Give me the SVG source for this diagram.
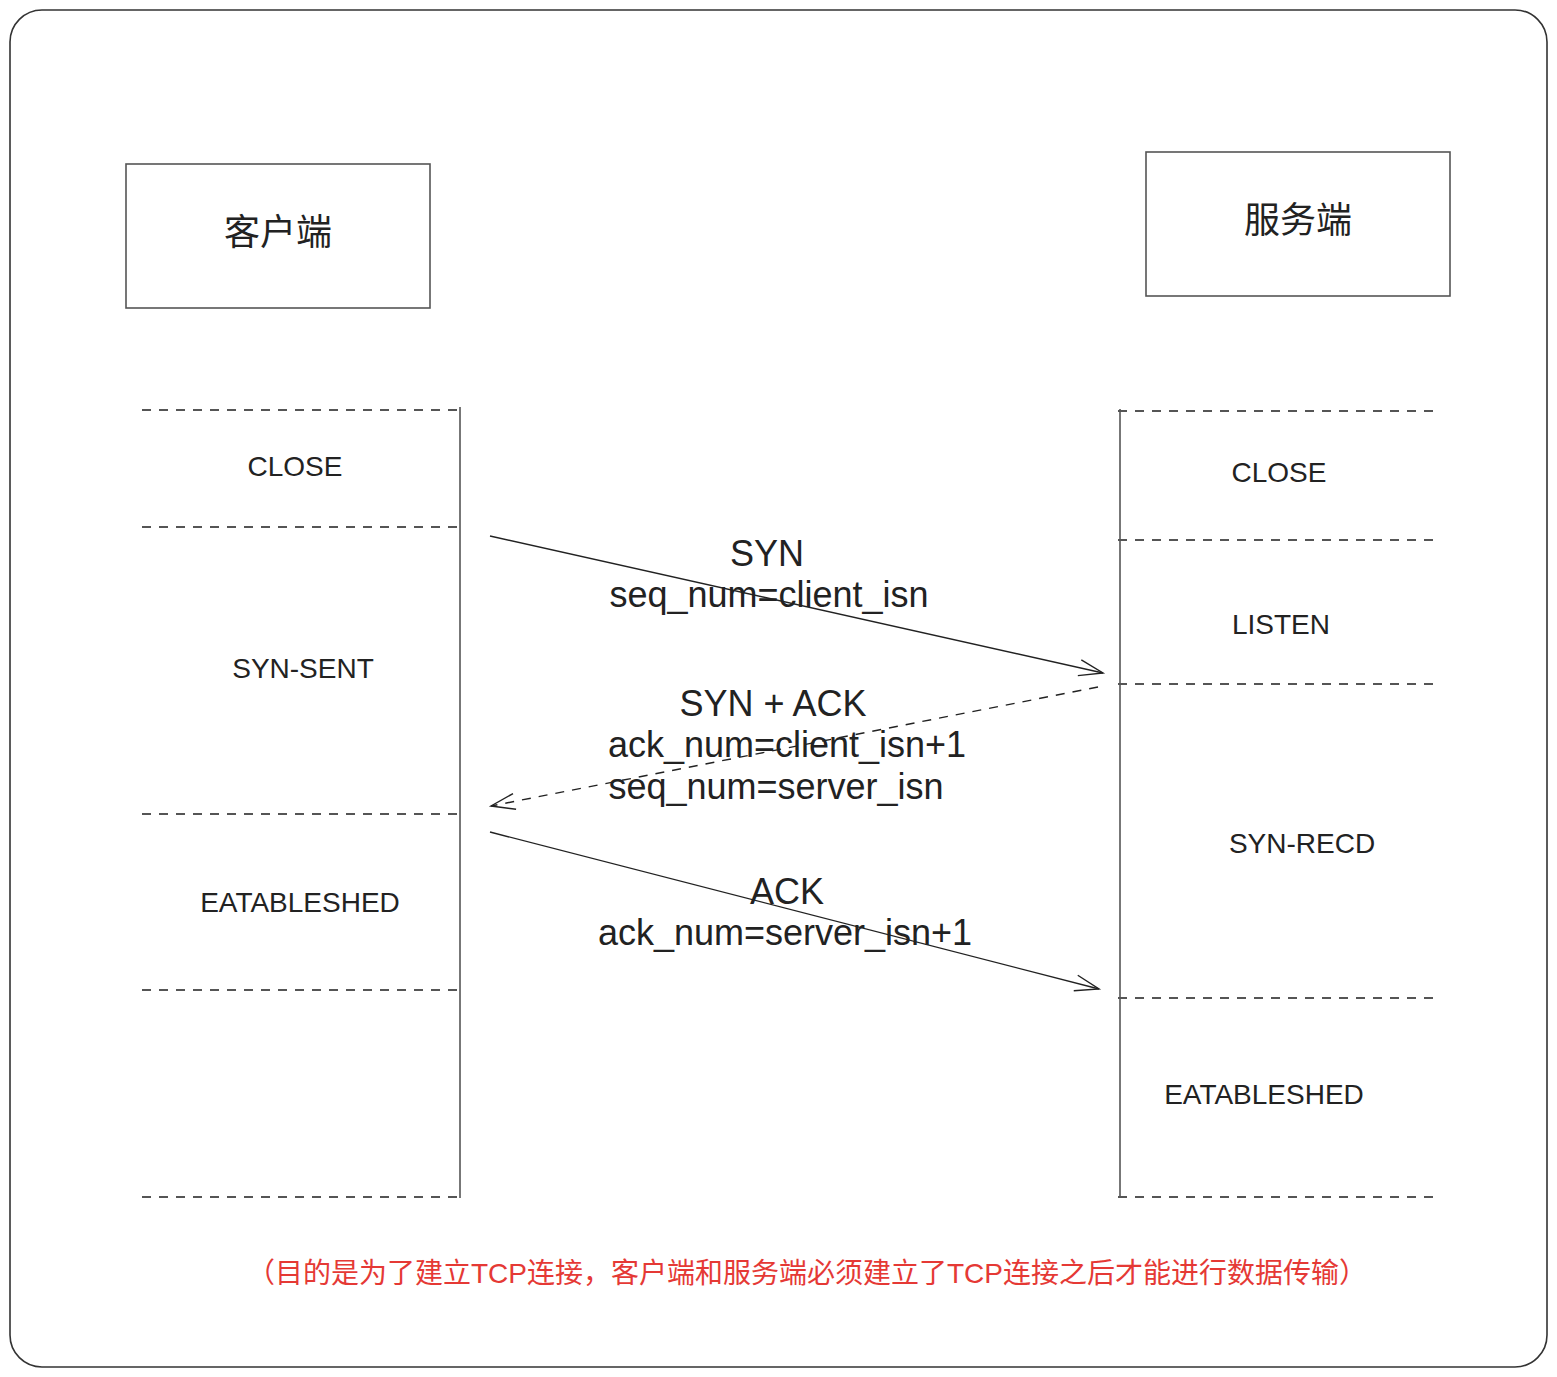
<svg xmlns="http://www.w3.org/2000/svg" width="1557" height="1377" viewBox="0 0 1557 1377">
  <style>
    .frame { fill: #ffffff; stroke: #333333; stroke-width: 1.6; }
    .box { fill: #ffffff; stroke: #555555; stroke-width: 1.6; }
    .life { stroke: #555555; stroke-width: 1.6; fill: none; }
    .sep { stroke: #555555; stroke-width: 1.8; stroke-dasharray: 9 8; fill: none; }
    .msg { stroke: #222222; stroke-width: 1.4; fill: none; }
    .msg-dash { stroke: #222222; stroke-width: 1.4; fill: none; stroke-dasharray: 9 8; }
    .actor { font-family: "Liberation Sans", "Noto Sans CJK SC", sans-serif; font-size: 36px; fill: #222222; text-anchor: middle; }
    .state { font-family: "Liberation Sans", Arial, sans-serif; font-size: 28px; fill: #222222; text-anchor: middle; }
    .label { font-family: "Liberation Sans", Arial, sans-serif; font-size: 36px; fill: #222222; text-anchor: middle; }
    .note { font-family: "Liberation Sans", "Noto Sans CJK SC", sans-serif; font-size: 28px; fill: #e53935; text-anchor: middle; }
  </style>
  <defs>
    <marker id="open-arrow" markerUnits="userSpaceOnUse" markerWidth="30" markerHeight="24" refX="26" refY="12" orient="auto">
      <path d="M2,4 L26,12 L2,20" fill="none" stroke="#222222" stroke-width="1.4"/>
    </marker>
  </defs>

  <!-- outer frame -->
  <rect class="frame" x="10" y="10" width="1537" height="1357" rx="32" ry="32"/>

  <!-- client node -->
  <g id="client">
    <rect class="box" x="126" y="164" width="304" height="144"/>
    <text class="actor" x="278" y="245">客户端</text>
  </g>

  <!-- server node -->
  <g id="server">
    <rect class="box" x="1146" y="152" width="304" height="144"/>
    <text class="actor" x="1298" y="233">服务端</text>
  </g>

  <!-- client lifeline with state bands -->
  <g id="client-states">
    <line class="life" x1="460" y1="407" x2="460" y2="1198"/>
    <line class="sep" x1="142" y1="410" x2="458" y2="410"/>
    <line class="sep" x1="142" y1="527" x2="458" y2="527"/>
    <line class="sep" x1="142" y1="814" x2="458" y2="814"/>
    <line class="sep" x1="142" y1="990" x2="458" y2="990"/>
    <line class="sep" x1="142" y1="1197" x2="458" y2="1197"/>
    <text class="state" x="295" y="476">CLOSE</text>
    <text class="state" x="303" y="678">SYN-SENT</text>
    <text class="state" x="300" y="912">EATABLESHED</text>
  </g>

  <!-- server lifeline with state bands -->
  <g id="server-states">
    <line class="life" x1="1120" y1="409" x2="1120" y2="1198"/>
    <line class="sep" x1="1118" y1="411" x2="1434" y2="411"/>
    <line class="sep" x1="1118" y1="540" x2="1434" y2="540"/>
    <line class="sep" x1="1118" y1="684" x2="1434" y2="684"/>
    <line class="sep" x1="1118" y1="998" x2="1434" y2="998"/>
    <line class="sep" x1="1118" y1="1197" x2="1434" y2="1197"/>
    <text class="state" x="1279" y="482">CLOSE</text>
    <text class="state" x="1281" y="634">LISTEN</text>
    <text class="state" x="1302" y="853">SYN-RECD</text>
    <text class="state" x="1264" y="1104">EATABLESHED</text>
  </g>

  <!-- handshake messages -->
  <g id="connectors">
    <line class="msg" x1="490" y1="536" x2="1103" y2="673" marker-end="url(#open-arrow)"/>
    <line class="msg-dash" x1="1098" y1="687" x2="491" y2="806" marker-end="url(#open-arrow)"/>
    <line class="msg" x1="490" y1="832" x2="1099" y2="989" marker-end="url(#open-arrow)"/>
  </g>

  <g id="labels">
    <text class="label" x="767" y="566">SYN</text>
    <text class="label" x="769" y="607">seq_num=client_isn</text>
    <text class="label" x="773" y="716">SYN + ACK</text>
    <text class="label" x="787" y="757">ack_num=client_isn+1</text>
    <text class="label" x="776" y="799">seq_num=server_isn</text>
    <text class="label" x="787" y="904">ACK</text>
    <text class="label" x="785" y="945">ack_num=server_isn+1</text>
  </g>

  <!-- footnote -->
  <text class="note" x="807" y="1283">（目的是为了建立TCP连接，客户端和服务端必须建立了TCP连接之后才能进行数据传输）</text>
</svg>
